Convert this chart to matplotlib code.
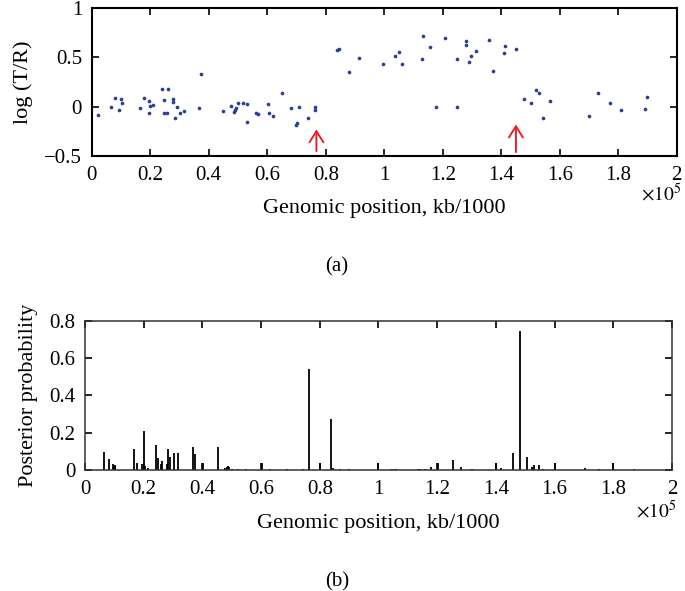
import numpy as np
import matplotlib
matplotlib.use("Agg")
import matplotlib.pyplot as plt
from matplotlib.ticker import FuncFormatter

plt.rcParams['font.family'] = ['Liberation Serif', 'DejaVu Serif']
plt.rcParams['mathtext.fontset'] = 'stix'

# (a) log(T/R) vs genomic position (x in units of 1e5)
pos_a = [0.021, 0.064, 0.079, 0.093, 0.099, 0.103, 0.166, 0.177, 0.195, 0.197,
         0.200, 0.209, 0.239, 0.246, 0.247, 0.257, 0.261, 0.277, 0.279, 0.283,
         0.291, 0.302, 0.316, 0.366, 0.374, 0.450, 0.475, 0.486, 0.490, 0.493,
         0.500, 0.516, 0.532, 0.531, 0.560, 0.569, 0.603, 0.607, 0.620, 0.651,
         0.680, 0.700, 0.697, 0.710, 0.739, 0.762, 0.763, 0.839, 0.845, 0.879,
         0.915, 0.996, 1.038, 1.052, 1.061, 1.129, 1.134, 1.158, 1.177, 1.207,
         1.249, 1.249, 1.278, 1.281, 1.288, 1.296, 1.313, 1.357, 1.373, 1.410,
         1.411, 1.452, 1.478, 1.500, 1.520, 1.528, 1.541, 1.566, 1.701, 1.730,
         1.772, 1.810, 1.892, 1.898]
logtr = [-0.088, 0.000, 0.090, -0.030, 0.080, 0.033, -0.010, 0.087, 0.053, -0.064,
         0.006, 0.013, 0.181, 0.070, -0.067, -0.060, 0.184, 0.073, 0.046, -0.115,
         -0.004, -0.060, -0.044, -0.014, 0.328, -0.040, 0.006, -0.054, -0.037, -0.017,
         0.033, 0.036, 0.030, -0.151, -0.064, -0.070, 0.023, -0.064, -0.090, 0.134,
         -0.010, -0.161, -0.188, 0.000, -0.118, 0.000, -0.037, 0.576, 0.583, 0.348,
         0.496, 0.429, 0.509, 0.556, 0.432, 0.479, 0.717, 0.600, 0.000, 0.700,
         0.486, 0.000, 0.624, 0.664, 0.453, 0.509, 0.563, 0.677, 0.362, 0.546,
         0.617, 0.587, 0.076, 0.040, 0.171, 0.137, -0.115, 0.053, -0.094, 0.137,
         0.040, -0.030, -0.027, 0.094]
arrow_pos = [0.768, 1.450]
arrow_from = [-0.45, -0.46]
arrow_to = [-0.23, -0.18]

# (b) posterior probability of a breakpoint
pos_b = [0.065, 0.081, 0.095, 0.098, 0.101, 0.104, 0.167, 0.179, 0.195, 0.200,
         0.205, 0.215, 0.242, 0.248, 0.259, 0.263, 0.278, 0.283, 0.290, 0.304,
         0.317, 0.367, 0.376, 0.402, 0.452, 0.477, 0.483, 0.487, 0.490, 0.500,
         0.520, 0.550, 0.602, 0.630, 0.690, 0.744, 0.763, 0.801, 0.840, 0.845,
         0.870, 0.900, 1.000, 1.046, 1.055, 1.060, 1.134, 1.140, 1.160, 1.179,
         1.203, 1.253, 1.280, 1.320, 1.400, 1.416, 1.457, 1.482, 1.505, 1.524,
         1.531, 1.546, 1.560, 1.601, 1.703, 1.750, 1.800, 1.870]
post = [0.098, 0.061, 0.030, 0.028, 0.025, 0.020, 0.111, 0.036, 0.032, 0.211,
        0.020, 0.011, 0.132, 0.063, 0.032, 0.050, 0.032, 0.111, 0.068, 0.089,
        0.089, 0.125, 0.086, 0.036, 0.125, 0.010, 0.016, 0.020, 0.014, 0.006,
        0.004, 0.004, 0.036, 0.004, 0.005, 0.008, 0.540, 0.036, 0.272, 0.010,
        0.004, 0.004, 0.036, 0.005, 0.005, 0.005, 0.007, 0.004, 0.004, 0.015,
        0.036, 0.054, 0.015, 0.004, 0.036, 0.011, 0.093, 0.745, 0.071, 0.015,
        0.025, 0.025, 0.004, 0.036, 0.010, 0.004, 0.036, 0.004]

xticks = np.arange(0, 2.01, 0.2)
fmt = FuncFormatter(lambda v, p: '%g' % round(v, 2))
fs = 15

fig = plt.figure(figsize=(6.85, 5.91), dpi=100)

# ---- panel (a)
ax1 = fig.add_axes([0.134, 0.736, 0.854, 0.2505])
ax1.scatter(pos_a, logtr, s=7, color='#2b3f95', lw=0, zorder=3)
for x, y0, y1 in zip(arrow_pos, arrow_from, arrow_to):
    ax1.annotate('', xy=(x, y1), xytext=(x, y0),
                 arrowprops=dict(arrowstyle='->,head_length=0.4,head_width=0.25',
                                 color='#e8202a', lw=1.4, mutation_scale=20,
                                 shrinkA=0, shrinkB=0))
ax1.set_xlim(0, 2)
ax1.set_ylim(-0.5, 1)
ax1.set_xticks(xticks)
ax1.set_yticks([-0.5, 0, 0.5, 1])
ax1.xaxis.set_major_formatter(fmt)
ax1.yaxis.set_major_formatter(FuncFormatter(lambda v, p: ('\u2212%g' % -v) if v < 0 else '%g' % v))
ax1.set_ylabel('log (T/R)', fontsize=fs + 1, labelpad=8)
for s in ax1.spines.values():
    s.set_linewidth(1.5)

# ---- panel (b)
ax2 = fig.add_axes([0.124, 0.2047, 0.857, 0.2527])
ax2.vlines(pos_b, 0, post, color='black', lw=1.3)
ax2.set_xlim(0, 2)
ax2.set_ylim(0, 0.8)
ax2.set_xticks(xticks)
ax2.set_yticks([0, 0.2, 0.4, 0.6, 0.8])
ax2.xaxis.set_major_formatter(fmt)
ax2.yaxis.set_major_formatter(fmt)
ax2.set_ylabel('Posterior probability', fontsize=fs + 1, labelpad=8)
for s in ax2.spines.values():
    s.set_linewidth(1.1)
    s.set_color('#333333')

for ax in (ax1, ax2):
    ax.tick_params(direction='in', top=True, right=True, length=5, width=1.2,
                   labelsize=fs, pad=7)

fig.text(0.561, 0.648, 'Genomic position, kb/1000', ha='center', va='center', fontsize=fs + 1)
fig.text(0.995, 0.672, r'$\times 10^5$', ha='right', va='center', fontsize=fs - 1)
fig.text(0.492, 0.548, '(a)', ha='center', va='center', fontsize=fs)

fig.text(0.553, 0.115, 'Genomic position, kb/1000', ha='center', va='center', fontsize=fs + 1)
fig.text(0.988, 0.135, r'$\times 10^5$', ha='right', va='center', fontsize=fs - 1)
fig.text(0.492, 0.015, '(b)', ha='center', va='center', fontsize=fs)

fig.savefig('out.png', dpi=100)
